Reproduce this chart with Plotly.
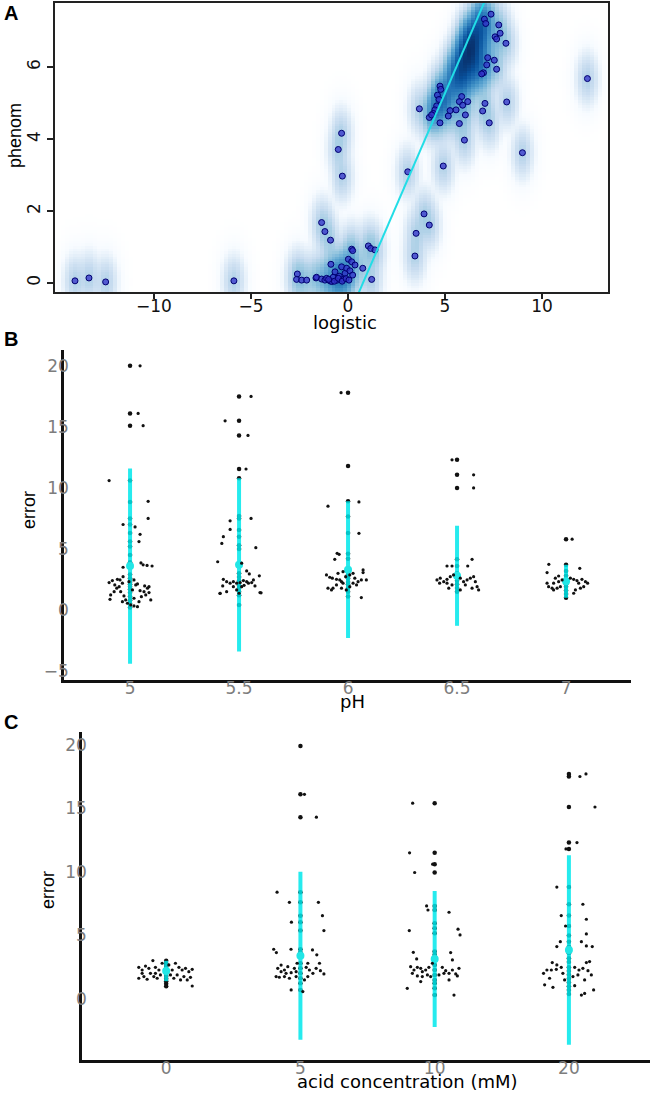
import numpy as np
import plotly.graph_objects as go

W, H = 653, 1093

# ---------------- Panel A data ----------------
logistic = [-14.07, -13.35, -12.49, -5.88, -2.61, -2.65, -2.39, -2.13, -1.65, -1.62, -1.36,
            -1.36, -1.19, -0.90, -1.19, -1.10, -0.93, -0.88, -0.84, -0.76, -0.67, -0.55, -0.45,
            -0.33, -0.24, -0.15, -0.07, 0.02, 0.10, 0.19, 0.24, 0.36, 0.19, 0.24, 0.76, 1.05,
            1.17, 1.39, 1.22, -0.33, -0.50, -0.29, 3.08, 4.91, 6.00, 3.92, 4.19, 3.51, 3.45,
            12.34, 8.99,
            7.37, 7.03, 7.10, 7.77, 7.84, 7.58, 7.66, 8.14, 7.20, 7.54, 7.15, 7.66, 6.98, 6.89,
            8.18, 7.06, 6.94, 7.28,
            4.74, 4.78, 4.61, 4.69, 3.68, 4.57, 4.48, 4.40, 4.19, 4.31, 4.74, 5.17, 5.26, 5.57,
            5.86, 5.74, 5.91, 6.17, 6.05, 5.74,
            -1.00, -0.70, -0.50, -0.30, -0.10, 0.05]
phenom = [0.06, 0.14, 0.03, 0.06, 0.25, 0.10, 0.08, 0.08, 0.14, 0.16, 0.11,
          1.68, 1.43, 1.19, 0.08, 0.13, 0.06, 0.52, 0.04, 0.16, 0.31, 0.08, 0.19,
          0.45, 0.10, 0.27, 0.41, 0.66, 0.34, 0.59, 0.22, 0.50, 0.94, 0.90, 0.41, 1.03,
          0.96, 0.92, 0.10, 4.16, 3.71, 2.97, 3.09, 3.25, 3.97, 1.92, 1.61, 1.38, 0.75,
          5.68, 3.62,
          7.47, 7.33, 7.21, 7.17, 6.94, 6.84, 6.78, 6.66, 6.26, 6.19, 6.06, 5.94, 5.84, 5.81,
          5.03, 4.99, 4.78, 4.45,
          5.47, 5.38, 5.22, 5.10, 4.84, 4.92, 4.81, 4.71, 4.60, 4.67, 4.45, 4.64, 4.79, 4.81,
          5.18, 5.04, 4.94, 5.04, 4.67, 4.43,
          0.10, 0.05, 0.13, 0.05, 0.12, 0.08]
# dense-region observations that smoothScatter shades but does not draw (with counts)
hidden_logistic = [5.2, 5.6, 5.4, 5.8, 6.0, 6.2, 5.9, 6.4, 6.6, 6.2, 6.6, 6.9, 6.8, 7.1, 6.5,
                   4.7, 5.0, 4.4, 7.0, -0.5, -0.2]
hidden_phenom = [5.4, 5.6, 5.9, 6.0, 5.7, 6.2, 6.4, 6.6, 6.2, 6.8, 7.0, 6.7, 7.3, 7.2, 5.8,
                 5.0, 5.1, 4.8, 6.0, 0.15, 0.2]
hidden_counts = [7, 10, 8, 15, 12, 18, 15, 18, 13, 15, 13, 10, 10, 7, 8,
                 8, 8, 5, 5, 5, 5]
fit_intercept = -0.96
fit_slope = 1.247

# ---------------- Panel B data ----------------
ph_levels = [5, 5.5, 6, 6.5, 7]
ph_means = [3.6, 3.7, 3.3, 2.8, 2.35]
ph_sds = [8.0, 7.1, 5.6, 4.1, 1.35]

ph5_center = [20.0, 16.1, 15.1, 10.6, 8.85, 7.5, 7.0, 6.3, 5.6, 5.2, 4.5, 3.9, 2.9, 2.6, 2.3,
              2.1, 1.9, 1.7, 1.4, 1.1, 0.8, 0.5, 0.2]
ph5_jit_dx = [0.046, 0.037, 0.060, -0.096, 0.083, 0.083, -0.032, 0.023, 0.046, 0.041, 0.060,
              0.078, 0.101, 0.050, -0.032,
              -0.096, -0.081, -0.058, -0.032, -0.070, -0.050, -0.035, -0.089, -0.073, -0.092,
              -0.043, -0.028, -0.020, -0.012, 0.003, 0.018, 0.034, 0.018, 0.011, 0.026,
              0.034, 0.046, 0.064, 0.080, 0.087, 0.072, 0.095, 0.052, 0.041, -0.035,
              -0.005, 0.018, -0.046, -0.061, 0.087, 0.067]
ph5_jit_y = [20.0, 16.1, 15.1, 10.6, 8.9, 7.5, 7.0, 6.8, 6.2, 5.6, 3.7, 3.65, 3.6, 3.85, 3.5,
             2.24, 2.41, 2.51, 2.73, 2.05, 1.91, 2.19, 1.23, 1.5, 0.87,
             1.5, 1.15, 0.82, 0.55, 0.41, 0.33, 0.27, 0.96, 1.64, 2.05,
             2.13, 1.58, 1.5, 1.78, 1.91, 1.23, 0.82, 1.09, 0.68, 0.68,
             2.32, 2.46, 2.46, 1.78, 1.42, 1.97]

ph55_center = [17.5, 15.5, 14.3, 11.55, 10.8, 7.7, 7.5, 6.55, 6.0, 5.3, 5.0, 3.85, 3.0, 2.7,
               2.4, 2.2, 2.0, 1.8, 1.5, 1.2, 0.4]
ph55_jit_dx = [0.055, -0.064, 0.041, 0.032, -0.041, -0.041, -0.072, -0.079, 0.055, 0.077,
               -0.098, 0.012, 0.035, 0.047, 0.093, 0.101, -0.087,
               -0.072, -0.057, -0.041, -0.026, -0.011, 0.005, 0.020, 0.035, 0.058, 0.073,
               -0.075, -0.087, -0.057, -0.011, 0.0, 0.012, 0.023, 0.043, 0.096, -0.026, 0.066]
ph55_jit_y = [17.5, 15.5, 14.3, 11.55, 7.3, 6.6, 6.0, 5.45, 7.5, 5.1,
              3.95, 3.83, 3.2, 2.95, 2.8, 1.4, 1.35,
              2.51, 2.32, 2.19, 2.32, 2.19, 2.24, 2.41, 2.32, 2.24, 1.97,
              1.97, 1.37, 1.5, 1.64, 1.37, 1.91, 2.02, 2.19, 1.42, 1.91, 2.46]

ph6_center = [17.8, 11.8, 8.9, 7.65, 6.3, 4.6, 4.2, 3.3, 2.9, 2.6, 2.3, 2.1, 1.8, 1.5, 1.1]
ph6_jit_dx = [-0.032, -0.092, 0.050, 0.050, -0.050, -0.041, -0.061,
              -0.099, -0.084, -0.072, -0.053, -0.038, -0.030, -0.023, -0.011, 0.008, 0.023,
              0.031, 0.046, 0.061, 0.069, 0.069, 0.084, 0.039, 0.008, -0.008, -0.030,
              -0.069, -0.092, -0.076, -0.053, 0.061, -0.046, -0.023, 0.023]
ph6_jit_y = [17.8, 8.5, 8.85, 6.28, 4.64, 4.56, 4.15,
             2.87, 2.68, 2.6, 2.51, 2.46, 2.32, 2.19, 2.73, 2.87, 3.0,
             2.6, 2.32, 2.46, 3.28, 3.06, 2.46, 2.05, 1.91, 1.64, 1.78,
             1.78, 1.78, 1.64, 2.05, 1.01, 3.0, 3.14, 2.19]

ph65_center = [12.3, 11.07, 10.0, 4.15, 3.6, 3.0, 2.7, 2.4, 2.1, 1.8, 1.5]
ph65_jit_dx = [-0.023, 0.076, 0.076, -0.023, -0.046, 0.049, 0.069,
               -0.092, -0.077, -0.061, -0.046, -0.031, -0.016, 0.015, 0.030, 0.046, 0.061,
               0.076, 0.084, 0.092, 0.069, 0.038, -0.023, -0.046, -0.080, 0.015, 0.099, -0.038]
ph65_jit_y = [12.3, 11.07, 10.0, 3.6, 3.6, 3.6, 4.15,
              2.46, 2.6, 2.32, 2.51, 2.73, 2.87, 2.6, 2.32, 2.46, 2.6,
              2.73, 2.32, 1.91, 1.78, 2.05, 2.05, 2.19, 2.19, 1.64, 1.64, 1.78]

ph7_center = [5.8, 3.7, 3.2, 2.8, 2.5, 2.3, 2.1, 1.9, 1.6, 1.3, 1.0]
ph7_jit_dx = [0.028, -0.079, 0.063, -0.087,
              -0.049, -0.034, -0.018, 0.020, 0.035, 0.050, 0.073, 0.089, 0.099, 0.081, 0.066,
              0.043, -0.026, -0.041, -0.064, -0.080, -0.087, -0.057, -0.034, 0.035, -0.057, 0.058]
ph7_jit_y = [5.8, 3.74, 3.41, 3.06,
             2.6, 2.78, 2.46, 2.6, 2.51, 2.41, 2.51, 2.32, 2.19, 1.91, 1.78,
             1.64, 1.91, 1.78, 1.78, 1.91, 2.19, 2.19, 2.32, 1.37, 1.64, 2.19]

# ---------------- Panel C data ----------------
acid_labels = ["0", "5", "10", "20"]
acid_means = [2.2, 3.4, 3.15, 3.85]
acid_sds = [0.8, 6.6, 5.35, 7.45]

acid0_center = [3.0, 2.8, 2.6, 2.4, 2.2, 2.0, 1.8, 1.6, 1.4, 1.2, 1.0]
acid0_jit_dx = [-0.204, -0.179, -0.154, -0.129, -0.099, -0.080, -0.054, -0.117, -0.092, -0.166,
                -0.204, -0.142, -0.067, -0.043, -0.030, 0.020, 0.045, 0.069, 0.095, 0.119,
                0.144, 0.169, 0.194, 0.181, 0.157, 0.132, 0.107, 0.082, 0.057, 0.194,
                0.032, -0.179, -0.080]
acid0_jit_y = [2.49, 2.28, 2.59, 2.41, 3.02, 2.49, 2.28, 2.02, 1.76, 1.76,
               1.63, 1.55, 1.63, 1.89, 2.81, 2.68, 2.28, 2.81, 2.49, 2.28,
               2.41, 2.15, 2.33, 1.70, 1.50, 1.76, 1.50, 1.89, 1.63, 1.02,
               1.89, 2.02, 2.02]

acid5_center = [19.9, 16.1, 14.3, 8.4, 7.6, 6.55, 6.04, 5.38, 3.91, 3.65, 3.34, 2.81, 2.41,
                2.02, 1.63, 1.23, 0.71]
acid5_jit_dx = [0.030, 0.119, -0.174, -0.082, 0.134, 0.164, -0.067, 0.175, -0.199, -0.179,
                -0.070, 0.090, 0.122,
                -0.169, -0.144, -0.119, -0.094, -0.069, -0.045, -0.025, -0.032, -0.082, -0.119,
                -0.157, -0.181, 0.043, 0.067, 0.093, 0.117, 0.142, 0.149, 0.175, 0.055,
                0.030, -0.069, 0.018, -0.144, -0.107, -0.032, 0.055]
acid5_jit_y = [16.1, 14.3, 8.4, 7.6, 7.6, 6.55, 6.04, 5.38, 3.91, 3.65,
               3.91, 3.86, 3.47,
               2.41, 2.15, 2.28, 2.54, 2.07, 2.41, 2.81, 1.76, 1.63, 1.76,
               1.71, 1.76, 2.49, 2.28, 2.02, 2.41, 2.81, 2.23, 1.97, 1.76,
               1.50, 0.71, 0.58, 2.67, 2.02, 2.15, 2.81]

acid10_center = [15.4, 11.5, 10.6, 9.95, 7.32, 7.0, 5.96, 5.56, 5.17, 3.73, 3.47, 3.08, 2.67,
                 2.28, 1.89, 1.50, 1.23, 0.84, 0.31]
acid10_jit_dx = [-0.164, -0.187, -0.015, -0.149, -0.060, -0.050, 0.107, -0.189, 0.174, 0.189,
                 -0.159, 0.119, -0.134, 0.132,
                 -0.179, -0.154, -0.129, -0.104, -0.092, -0.067, -0.043, -0.017, -0.054, -0.092,
                 -0.129, -0.166, -0.204, -0.104, 0.057, 0.082, 0.107, 0.132, 0.157, 0.181,
                 0.169, 0.107, 0.069, 0.032, 0.144, -0.030]
acid10_jit_y = [15.4, 11.5, 10.6, 9.95, 7.32, 7.0, 6.82, 5.38, 5.49, 5.04,
                3.67, 3.65, 3.15, 3.07,
                2.54, 2.28, 2.49, 2.41, 2.15, 2.28, 2.49, 2.81, 1.89, 1.76,
                1.81, 2.02, 0.84, 1.37, 2.49, 2.23, 2.02, 2.28, 1.97, 2.41,
                1.81, 1.50, 2.02, 1.89, 0.31, 1.76]

acid20_center = [17.7, 17.5, 15.1, 12.3, 11.8, 8.8, 7.45, 6.56, 5.74, 5.0, 4.5, 4.1, 3.6, 3.2,
                 2.9, 2.5, 2.2, 1.9, 1.6, 1.3, 1.0, 0.7, 0.4]
acid20_jit_dx = [0.082, 0.127, 0.194, 0.060, -0.022, -0.090, 0.104, -0.057, 0.130, -0.025,
                 0.130, 0.093, -0.064, -0.090, 0.130, 0.174,
                 -0.124, -0.090, -0.164, -0.131, -0.094, -0.057, -0.189, -0.144, -0.181, -0.119,
                 -0.032, 0.043, 0.075, 0.104, 0.130, 0.142, 0.167, 0.154, 0.067, 0.030,
                 0.117, 0.043, 0.093, 0.117, 0.184, -0.045]
acid20_jit_y = [17.5, 17.7, 15.1, 12.3, 11.8, 8.8, 7.45, 6.56, 6.27, 5.74,
                5.12, 4.51, 4.51, 4.12, 4.17, 4.12,
                2.86, 2.68, 2.28, 2.28, 2.33, 2.49, 2.02, 1.63, 1.11, 0.92,
                1.50, 2.49, 2.28, 2.41, 2.86, 2.23, 1.89, 2.94, 1.89, 1.76,
                1.50, 1.05, 0.31, 0.44, 0.71, 2.02]

# ---------------- styling ----------------
A_XR = [-15.1, 13.4]
A_YR = [-0.25, 7.78]
B_XR = [4.697, 7.298]
B_YR = [-5.74, 21.3]
C_XR = [0.373, 4.604]
C_YR = [-4.8, 21.0]
CYAN = "rgba(0,232,235,0.85)"
TICK_GRAY = "#7d7d7d"
FONT = "DejaVu Sans"


def px_x(p):
    return p / W


def px_y(p):
    return 1 - p / H


fig = go.Figure()

# ----- Panel A: smoothed density + points + fit line -----
all_x = np.array(logistic + hidden_logistic)
all_y = np.array(phenom + hidden_phenom)
weights = np.array([1.0] * len(logistic) + hidden_counts, dtype=float)
gx = np.linspace(A_XR[0], A_XR[1], 140)
gy = np.linspace(A_YR[0], A_YR[1], 110)
bw_x, bw_y = 0.25, 0.31
kx = np.exp(-0.5 * ((gx[None, :] - all_x[:, None]) / bw_x) ** 2)
ky = np.exp(-0.5 * ((gy[None, :] - all_y[:, None]) / bw_y) ** 2)
dens = (ky * weights[:, None]).T @ kx
z = dens ** 0.25
blues = ["#FFFFFF", "#F7FBFF", "#DEEBF7", "#C6DBEF", "#9ECAE1", "#6BAED6",
         "#4292C6", "#2171B5", "#08519C", "#08306B"]
cscale = [[i / 9, c] for i, c in enumerate(blues)]
fig.add_trace(go.Heatmap(x=gx, y=gy, z=z, colorscale=cscale, zmin=0, zmax=float(z.max()),
                         showscale=False, xaxis="x", yaxis="y", hoverinfo="skip"))
fig.add_trace(go.Scatter(x=logistic, y=phenom, mode="markers", xaxis="x", yaxis="y",
                         marker=dict(size=6, color="rgba(50,50,200,0.75)",
                                     line=dict(width=1, color="#000070"))))
line_x = np.array(A_XR)
fig.add_trace(go.Scatter(x=line_x, y=fit_intercept + fit_slope * line_x, mode="lines",
                         xaxis="x", yaxis="y", line=dict(color="#22dde6", width=2)))


def add_group(xc, center, jdx, jy, mean, sd, xa, ya):
    fig.add_trace(go.Scatter(x=[xc] * len(center), y=center, mode="markers", xaxis=xa, yaxis=ya,
                             marker=dict(size=4.5, color="#111111")))
    fig.add_trace(go.Scatter(x=[xc], y=[mean], mode="markers", xaxis=xa, yaxis=ya,
                             marker=dict(size=8, color="#22e6e6"),
                             error_y=dict(type="data", array=[sd], symmetric=True,
                                          color=CYAN, thickness=4, width=0)))
    xs = [xc + d for d, _ in zip(jdx, jy, strict=True)]
    fig.add_trace(go.Scatter(x=xs, y=jy, mode="markers", xaxis=xa, yaxis=ya,
                             marker=dict(size=3.2, color="#111111")))


ph_groups = [(ph5_center, ph5_jit_dx, ph5_jit_y), (ph55_center, ph55_jit_dx, ph55_jit_y),
             (ph6_center, ph6_jit_dx, ph6_jit_y), (ph65_center, ph65_jit_dx, ph65_jit_y),
             (ph7_center, ph7_jit_dx, ph7_jit_y)]
for lvl, (c, dx, jy), m, s in zip(ph_levels, ph_groups, ph_means, ph_sds):
    add_group(lvl, c, dx, jy, m, s, "x2", "y2")

acid_groups = [(acid0_center, acid0_jit_dx, acid0_jit_y), (acid5_center, acid5_jit_dx, acid5_jit_y),
               (acid10_center, acid10_jit_dx, acid10_jit_y),
               (acid20_center, acid20_jit_dx, acid20_jit_y)]
for i, ((c, dx, jy), m, s) in enumerate(zip(acid_groups, acid_means, acid_sds)):
    add_group(i + 1, c, dx, jy, m, s, "x3", "y3")

axis_common = dict(showgrid=False, zeroline=False, fixedrange=True)

fig.update_layout(
    width=W, height=H, margin=dict(l=0, r=0, t=0, b=0),
    paper_bgcolor="white", plot_bgcolor="white", showlegend=False,
    font=dict(family=FONT, size=16, color="black"),
    xaxis=dict(domain=[px_x(55), px_x(608)], range=A_XR, anchor="y", showline=True, mirror=True,
               linecolor="#222", linewidth=2, ticks="outside", ticklen=5, tickwidth=1.5,
               tickcolor="#222", tickvals=[-10, -5, 0, 5, 10], ticklabelstandoff=-7,
               tickfont=dict(family=FONT, size=17, color="#111"), **axis_common),
    yaxis=dict(domain=[px_y(292), px_y(3)], range=A_YR, anchor="x", showline=True, mirror=True,
               linecolor="#222", linewidth=2, ticks="outside", ticklen=6, tickwidth=1.5,
               tickcolor="#222", tickvals=[0, 2, 4, 6], tickangle=-90,
               tickfont=dict(family=FONT, size=17, color="#111"), **axis_common),
    xaxis2=dict(domain=[px_x(64), px_x(631)], range=B_XR, anchor="y2", showline=True,
                linecolor="#111", linewidth=2.5, ticks="", tickvals=ph_levels,
                ticktext=[str(v) for v in ph_levels], ticklabelstandoff=-9,
                tickfont=dict(family=FONT, size=17, color=TICK_GRAY), **axis_common),
    yaxis2=dict(domain=[px_y(680), px_y(350)], range=B_YR, anchor="x2", showline=True,
                linecolor="#111", linewidth=2.5, ticks="", tickvals=[-5, 0, 5, 10, 15, 20],
                ticklabelstandoff=-11,
                tickfont=dict(family=FONT, size=17, color=TICK_GRAY), **axis_common),
    xaxis3=dict(domain=[px_x(82), px_x(650)], range=C_XR, anchor="y3", showline=True,
                linecolor="#111", linewidth=2.5, ticks="", tickvals=[1, 2, 3, 4],
                ticktext=acid_labels, ticklabelstandoff=-9,
                tickfont=dict(family=FONT, size=17, color=TICK_GRAY), **axis_common),
    yaxis3=dict(domain=[px_y(1060), px_y(732)], range=C_YR, anchor="x3", showline=True,
                linecolor="#111", linewidth=2.5, ticks="", tickvals=[0, 5, 10, 15, 20],
                ticklabelstandoff=-11,
                tickfont=dict(family=FONT, size=17, color=TICK_GRAY), **axis_common),
)

texts = [
    ("A", 11, 13, 0, 20, "Liberation Sans", True),
    ("B", 11, 339, 0, 20, "Liberation Sans", True),
    ("C", 11, 722, 0, 20, "Liberation Sans", True),
    ("phenom", 15, 136, -90, 18, "Liberation Sans", False),
    ("logistic", 345, 322, 0, 18, FONT, False),
    ("error", 29, 510, -90, 18, "Liberation Sans", False),
    ("pH", 352, 701, 0, 18, FONT, False),
    ("error", 48, 890, -90, 18, "Liberation Sans", False),
    ("acid concentration (mM)", 407, 1081, 0, 18, FONT, False),
]
for t, x, y, ang, sz, fam, bold in texts:
    fig.add_annotation(text=f"<b>{t}</b>" if bold else t, x=px_x(x), y=px_y(y),
                       xref="paper", yref="paper", xanchor="center", yanchor="middle",
                       textangle=ang, showarrow=False,
                       font=dict(family=fam, size=sz, color="black"))

fig.write_html("out.html", config={"displayModeBar": False},
               post_script="document.body.style.margin='0';document.body.style.overflow='hidden';")
